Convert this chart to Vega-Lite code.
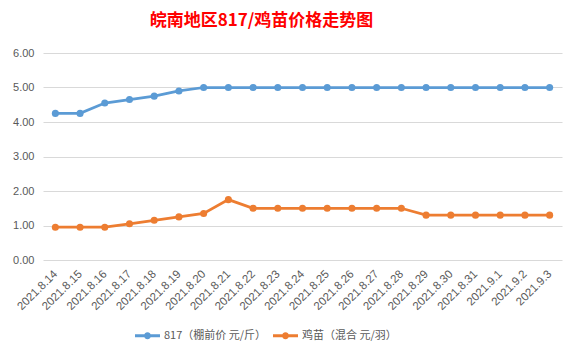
{
  "$schema": "https://vega.github.io/schema/vega-lite/v6.json",
  "width": 519,
  "height": 207,
  "autosize": "none",
  "padding": {"left": 43, "top": 53, "right": 18, "bottom": 97},
  "background": "white",
  "title": {
    "text": "皖南地区817/鸡苗价格走势图",
    "color": "#FF0000",
    "font": "Noto Sans CJK SC",
    "fontSize": 17,
    "fontWeight": "bold",
    "anchor": "middle",
    "dx": -41,
    "offset": 17
  },
  "data": {
    "values": [
      {"date": "2021.8.14", "series": "817（棚前价 元/斤）", "value": 4.25},
      {"date": "2021.8.15", "series": "817（棚前价 元/斤）", "value": 4.25},
      {"date": "2021.8.16", "series": "817（棚前价 元/斤）", "value": 4.55},
      {"date": "2021.8.17", "series": "817（棚前价 元/斤）", "value": 4.65},
      {"date": "2021.8.18", "series": "817（棚前价 元/斤）", "value": 4.75},
      {"date": "2021.8.19", "series": "817（棚前价 元/斤）", "value": 4.9},
      {"date": "2021.8.20", "series": "817（棚前价 元/斤）", "value": 5.0},
      {"date": "2021.8.21", "series": "817（棚前价 元/斤）", "value": 5.0},
      {"date": "2021.8.22", "series": "817（棚前价 元/斤）", "value": 5.0},
      {"date": "2021.8.23", "series": "817（棚前价 元/斤）", "value": 5.0},
      {"date": "2021.8.24", "series": "817（棚前价 元/斤）", "value": 5.0},
      {"date": "2021.8.25", "series": "817（棚前价 元/斤）", "value": 5.0},
      {"date": "2021.8.26", "series": "817（棚前价 元/斤）", "value": 5.0},
      {"date": "2021.8.27", "series": "817（棚前价 元/斤）", "value": 5.0},
      {"date": "2021.8.28", "series": "817（棚前价 元/斤）", "value": 5.0},
      {"date": "2021.8.29", "series": "817（棚前价 元/斤）", "value": 5.0},
      {"date": "2021.8.30", "series": "817（棚前价 元/斤）", "value": 5.0},
      {"date": "2021.8.31", "series": "817（棚前价 元/斤）", "value": 5.0},
      {"date": "2021.9.1", "series": "817（棚前价 元/斤）", "value": 5.0},
      {"date": "2021.9.2", "series": "817（棚前价 元/斤）", "value": 5.0},
      {"date": "2021.9.3", "series": "817（棚前价 元/斤）", "value": 5.0},
      {"date": "2021.8.14", "series": "鸡苗（混合 元/羽）", "value": 0.95},
      {"date": "2021.8.15", "series": "鸡苗（混合 元/羽）", "value": 0.95},
      {"date": "2021.8.16", "series": "鸡苗（混合 元/羽）", "value": 0.95},
      {"date": "2021.8.17", "series": "鸡苗（混合 元/羽）", "value": 1.05},
      {"date": "2021.8.18", "series": "鸡苗（混合 元/羽）", "value": 1.15},
      {"date": "2021.8.19", "series": "鸡苗（混合 元/羽）", "value": 1.25},
      {"date": "2021.8.20", "series": "鸡苗（混合 元/羽）", "value": 1.35},
      {"date": "2021.8.21", "series": "鸡苗（混合 元/羽）", "value": 1.75},
      {"date": "2021.8.22", "series": "鸡苗（混合 元/羽）", "value": 1.5},
      {"date": "2021.8.23", "series": "鸡苗（混合 元/羽）", "value": 1.5},
      {"date": "2021.8.24", "series": "鸡苗（混合 元/羽）", "value": 1.5},
      {"date": "2021.8.25", "series": "鸡苗（混合 元/羽）", "value": 1.5},
      {"date": "2021.8.26", "series": "鸡苗（混合 元/羽）", "value": 1.5},
      {"date": "2021.8.27", "series": "鸡苗（混合 元/羽）", "value": 1.5},
      {"date": "2021.8.28", "series": "鸡苗（混合 元/羽）", "value": 1.5},
      {"date": "2021.8.29", "series": "鸡苗（混合 元/羽）", "value": 1.3},
      {"date": "2021.8.30", "series": "鸡苗（混合 元/羽）", "value": 1.3},
      {"date": "2021.8.31", "series": "鸡苗（混合 元/羽）", "value": 1.3},
      {"date": "2021.9.1", "series": "鸡苗（混合 元/羽）", "value": 1.3},
      {"date": "2021.9.2", "series": "鸡苗（混合 元/羽）", "value": 1.3},
      {"date": "2021.9.3", "series": "鸡苗（混合 元/羽）", "value": 1.3}
    ]
  },
  "mark": {"type": "line", "strokeWidth": 2.75, "point": {"size": 50, "filled": true, "opacity": 1}},
  "encoding": {
    "x": {
      "field": "date",
      "type": "ordinal",
      "sort": null,
      "scale": {"type": "point", "padding": 0.5},
      "axis": {
        "title": null,
        "labelAngle": -45,
        "labelAlign": "right",
        "labelBaseline": "middle",
        "labelFont": "Liberation Sans",
        "labelFontSize": 11.5,
        "labelColor": "#595959",
        "ticks": false,
        "domain": false,
        "grid": false,
        "labelPadding": 12
      }
    },
    "y": {
      "field": "value",
      "type": "quantitative",
      "scale": {"domain": [0, 6], "nice": false},
      "axis": {
        "title": null,
        "values": [0, 1, 2, 3, 4, 5, 6],
        "format": ".2f",
        "labelFont": "Liberation Sans",
        "labelFontSize": 11,
        "labelColor": "#595959",
        "ticks": false,
        "domain": false,
        "gridColor": "#D9D9D9",
        "gridWidth": 1,
        "labelPadding": 9
      }
    },
    "color": {
      "field": "series",
      "type": "nominal",
      "sort": null,
      "scale": {
        "domain": ["817（棚前价 元/斤）", "鸡苗（混合 元/羽）"],
        "range": ["#5B9BD5", "#ED7D31"]
      },
      "legend": {
        "title": null,
        "orient": "none",
        "direction": "horizontal",
        "legendX": 92,
        "legendY": 270,
        "symbolType": "M-1,-0.12 L1,-0.12 L1,0.12 L-1,0.12 Z M0.28,0 A0.28,0.28 0 1,1 -0.28,0 A0.28,0.28 0 1,1 0.28,0 Z",
        "symbolSize": 625,
        "symbolStrokeWidth": 0,
        "labelFont": "Noto Sans CJK SC",
        "labelFontSize": 11,
        "labelColor": "#595959",
        "columnPadding": 6,
        "symbolOffset": 0
      }
    }
  },
  "config": {
    "view": {"stroke": null}
  }
}
